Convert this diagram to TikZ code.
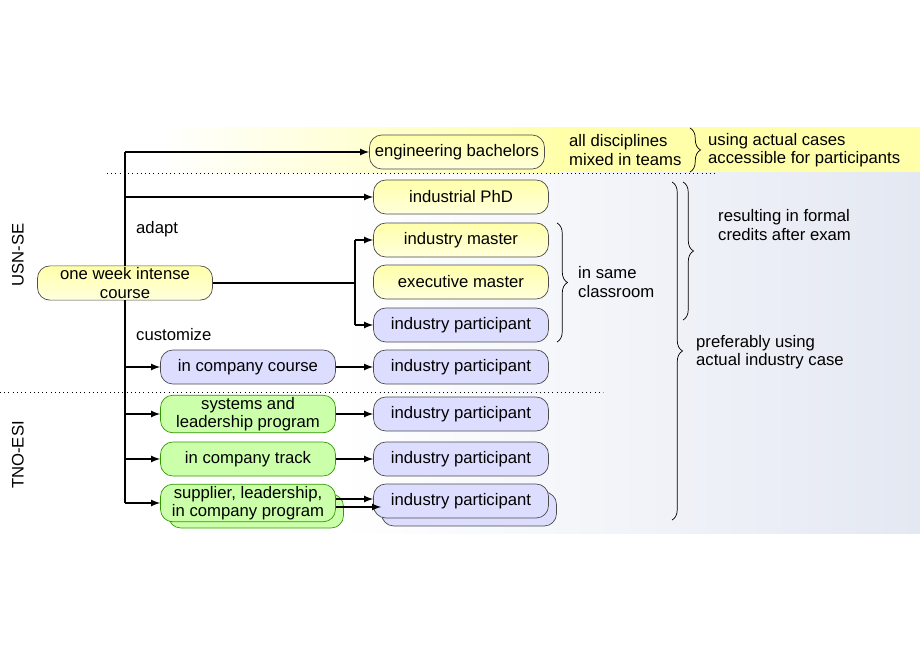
\documentclass[tikz,border=0pt]{standalone}
\usepackage{fontspec}
\setmainfont{Liberation Sans}
\usetikzlibrary{decorations.pathreplacing}
\definecolor{boxyellow}{HTML}{FFFFAA}
\definecolor{boxblue}{HTML}{DDDDFF}
\definecolor{boxgreen}{HTML}{CCFFAA}
\definecolor{edgegreen}{HTML}{339900}
\definecolor{bgblue}{HTML}{E4E8F2}
\begin{document}
\begin{tikzpicture}[x=0.02cm,y=-0.02cm,font=\fontsize{9.5}{10.5}\selectfont,
    box/.style={rectangle, rounded corners=7pt, draw=black!70, minimum width=3.5cm, minimum height=0.68cm, text centered, align=center, inner sep=1pt},
    ybox/.style={box, top color=boxyellow, bottom color=boxyellow!40!white},
    pbox/.style={box, fill=boxblue},
    gbox/.style={box, fill=boxgreen, draw=edgegreen},
    arrow/.style={thick,-latex},
    brace/.style={decorate, decoration={brace, amplitude=6pt}}]
    \useasboundingbox (0,0) rectangle (920,660);
    % backgrounds
    \shade[left color=white, right color=bgblue] (340,172) rectangle (920,533);
    \shade[left color=white, right color=boxyellow] (160,127) rectangle (560,172);
    \fill[boxyellow] (560,127) rectangle (920,172);
    \draw[dotted] (107,173) -- (715,173);
    \draw[dotted] (0,392) -- (603,392);
    \node[rotate=90] (usn) at (18,255) {USN-SE};
    \node[rotate=90] (tno) at (18,455) {TNO-ESI};

    \node (course) [ybox, fill=boxyellow] at (125,283) {one week intense\\course};
    \node (eng) [ybox, minimum width=3.5cm, fill=boxyellow] at (457,152) {engineering bachelors};
    \node (phd) [ybox] at (461,197) {industrial PhD};
    \node (master) [ybox] at (461,240) {industry master};
    \node (exec) [ybox] at (461,282) {executive master};
    \node (part1) [pbox] at (461,325) {industry participant};
    \node (incourse) [pbox] at (248,367) {in company course};
    \node (part2) [pbox] at (461,367) {industry participant};
    \node (sys) [gbox] at (248,414) {systems and\\leadership program};
    \node (part3) [pbox] at (461,414) {industry participant};
    \node (track) [gbox] at (248,459) {in company track};
    \node (part4) [pbox] at (461,459) {industry participant};
    \node (supb) [gbox] at (256,511) {};
    \node (sup) [gbox] at (248,503) {supplier, leadership,\\in company program};
    \node (part5b) [pbox] at (469,509) {};
    \node (part5) [pbox] at (461,501) {industry participant};

    \coordinate (top) at (125,152);
    \coordinate (bot) at (125,503);
    \coordinate (split) at (355,283);
    \draw[thick] (course) -- (top);
    \draw[thick] (course) -- (bot);
    \draw[arrow] (top) -- (eng);
    \draw[arrow] (125,197) -- (phd);
    \draw[arrow] (125,367) -- (incourse);
    \draw[arrow] (125,414) -- (sys);
    \draw[arrow] (125,459) -- (track);
    \draw[arrow] (bot) -- (sup);
    \draw[thick] (course) -- (split);
    \draw[thick] (355,240) -- (355,325);
    \draw[arrow] (355,240) -- (master);
    \draw[arrow] (355,325) -- (part1);
    \draw[arrow] (incourse) -- (part2);
    \draw[arrow] (sys) -- (part3);
    \draw[arrow] (track) -- (part4);
    \draw[arrow] (sup.east |- 0,499) -- (part5.west |- 0,499);
    \draw[arrow] (sup.east |- 0,507) -- (part5b.west |- 0,507);

    \node (adapt) [anchor=west] at (130,229) {adapt};
    \node (cust) [anchor=west] at (130,335) {customize};
    \node (mixed) [anchor=west, align=left] at (563,150) {all disciplines\\mixed in teams};
    \draw[brace] (690,128) -- (690,172);
    \node (cases) [anchor=west, align=left] at (702,150) {using actual cases\\accessible for participants};
    \draw[brace] (683,182) -- (683,320);
    \node (credits) [anchor=west, align=left] at (712,225) {resulting in formal\\credits after exam};
    \draw[brace] (557,223) -- (557,342);
    \node (room) [anchor=west, align=left] at (572,282) {in same\\classroom};
    \draw[brace] (672,182) -- (672,520);
    \node (pref) [anchor=west, align=left] at (690,352) {preferably using\\actual industry case};
\end{tikzpicture}
\end{document}
